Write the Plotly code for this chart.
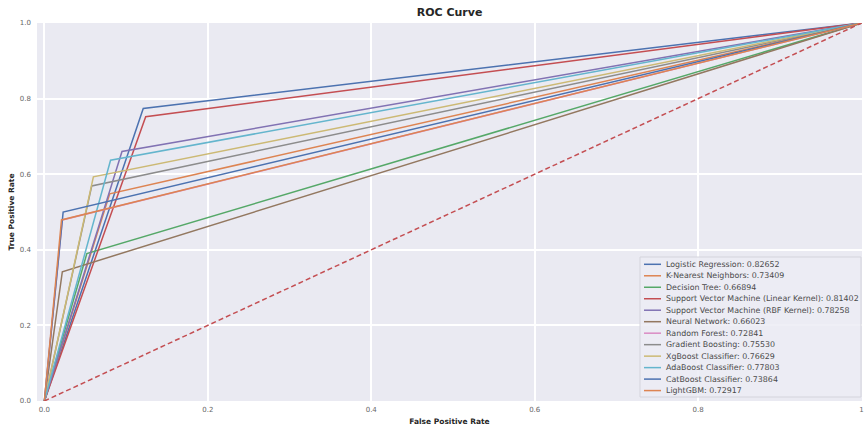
import plotly.graph_objects as go

# Models evaluated, their ROC AUC and the single operating point of each ROC curve
models = [
    "Logistic Regression",
    "K-Nearest Neighbors",
    "Decision Tree",
    "Support Vector Machine (Linear Kernel)",
    "Support Vector Machine (RBF Kernel)",
    "Neural Network",
    "Random Forest",
    "Gradient Boosting",
    "XgBoost Classifier",
    "AdaBoost Classifier",
    "CatBoost Classifier",
    "LightGBM",
]
auc_scores = [0.82652, 0.73409, 0.66894, 0.81402, 0.78258, 0.66023,
              0.72841, 0.75530, 0.76629, 0.77803, 0.73864, 0.72917]
fpr_point = [0.121, 0.080, 0.052, 0.124, 0.095, 0.022,
             0.022, 0.058, 0.060, 0.081, 0.023, 0.021]
tpr_point = [0.774, 0.548, 0.390, 0.752, 0.660, 0.342,
             0.479, 0.569, 0.593, 0.637, 0.500, 0.479]

# axis ticks
tick_vals = [0, 0.2, 0.4, 0.6, 0.8, 1.0]
x_tick_text = ["0.0", "0.2", "0.4", "0.6", "0.8", "1"]
y_tick_text = ["0.0", "0.2", "0.4", "0.6", "0.8", "1.0"]

# seaborn "deep" palette, cycled
palette = ["#4C72B0", "#DD8452", "#55A868", "#C44E52", "#8172B3", "#937860",
           "#DA8BC3", "#8C8C8C", "#CCB974", "#64B5CD"]

W, H = 865, 429
ML, MR, MT, MB = 37, 3, 23, 28
PW, PH = W - ML - MR, H - MT - MB
FONT = "DejaVu Sans"


def px_x(p):
    return (p - ML) / PW


def px_y(p):
    return (H - MB - p) / PH


fig = go.Figure()
for i, name in enumerate(models):
    fig.add_trace(go.Scatter(
        x=[0, fpr_point[i], 1],
        y=[0, tpr_point[i], 1],
        mode="lines",
        name=f"{name}: {auc_scores[i]:.5f}",
        line=dict(color=palette[i % len(palette)], width=1.5),
        showlegend=False,
    ))

# chance diagonal
fig.add_trace(go.Scatter(
    x=[0, 1], y=[0, 1], mode="lines",
    line=dict(color="#C44E52", width=1.5, dash="5px,3px"),
    showlegend=False,
))

# legend frame and entries
shapes = [dict(
    type="rect", xref="paper", yref="paper",
    x0=px_x(640), x1=px_x(861), y0=px_y(397), y1=px_y(257),
    fillcolor="rgba(236,236,244,0.85)", line=dict(color="#d4d4dc", width=1),
    layer="above",
)]
annotations = []
row0, row_step = 264.3, 11.48
for i, name in enumerate(models):
    yy = px_y(row0 + row_step * i)
    shapes.append(dict(
        type="line", xref="paper", yref="paper",
        x0=px_x(644), x1=px_x(661), y0=yy, y1=yy,
        line=dict(color=palette[i % len(palette)], width=1.5), layer="above",
    ))
    annotations.append(dict(
        xref="paper", yref="paper", x=px_x(664), y=yy,
        xanchor="left", yanchor="middle", showarrow=False,
        text=f"{name}: {auc_scores[i]:.5f}",
        font=dict(family=FONT, size=7.9, color="#4a4a4a"),
    ))

axis_common = dict(
    showline=False, zeroline=False, showgrid=True,
    gridcolor="white", gridwidth=1.5,
    tickfont=dict(family=FONT, size=7, color="#666666"),
    ticks="",
    ticklabeloverflow="allow",
)

fig.update_layout(
    width=W, height=H,
    margin=dict(l=ML, r=MR, t=MT, b=MB, autoexpand=False),
    paper_bgcolor="white", plot_bgcolor="#EAEAF2",
    title=dict(text="ROC Curve", x=(ML + PW / 2) / W, xanchor="center",
               y=1 - 12 / H, yanchor="middle",
               font=dict(family=FONT, size=11, color="#262626", weight="bold")),
    xaxis=dict(range=[-0.009, 1.0005], tickvals=tick_vals, ticktext=x_tick_text,
               ticklabelstandoff=3,
               title=dict(text="False Positive Rate", standoff=5,
                          font=dict(family=FONT, size=7.5, color="#262626", weight="bold")),
               **axis_common),
    yaxis=dict(range=[0, 1], tickvals=tick_vals, ticktext=y_tick_text,
               ticklabelstandoff=5,
               title=dict(text="True Positive Rate", standoff=4,
                          font=dict(family=FONT, size=7.5, color="#262626", weight="bold")),
               **axis_common),
    shapes=shapes,
    annotations=annotations,
    showlegend=False,
)

fig.write_html("out.html")
